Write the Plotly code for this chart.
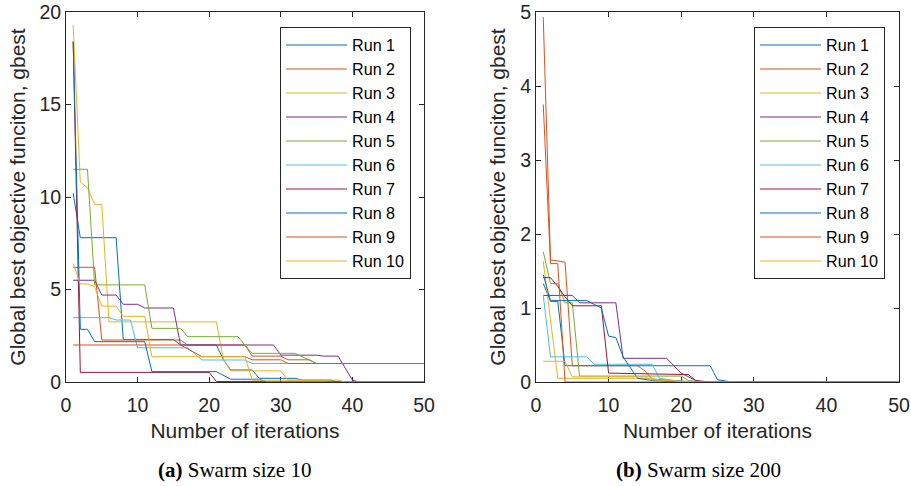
import plotly.graph_objects as go

# ---------------- data ----------------
RUN_NAMES = ["Run 1", "Run 2", "Run 3", "Run 4", "Run 5",
             "Run 6", "Run 7", "Run 8", "Run 9", "Run 10"]
COLORS = ["#0072BD", "#D95319", "#EDB120", "#7E2F8E", "#77AC30",
          "#4DBEEE", "#A2142F", "#0072BD", "#D95319", "#EDB120"]
X_TICKS = [0, 10, 20, 30, 40, 50]
Y_TICKS_A = [0, 5, 10, 15, 20]
Y_TICKS_B = [0, 1, 2, 3, 4, 5]
CAPTION_A = "<b>(a)</b> Swarm size 10"
CAPTION_B = "<b>(b)</b> Swarm size 200"
X_TITLE = "Number of iterations"
Y_TITLE = "Global best objective funciton, gbest"

# (a) swarm size 10 : iteration / gbest points where the curve changes
a1_it = [1, 2, 7, 8, 15, 16, 21, 22, 23, 26, 27, 32, 33, 37, 38, 50]
a1_val = [10.2, 7.8, 7.8, 2.3, 2.3, 2.0, 2.0, 1.2, 0.65, 0.65, 0.2, 0.2, 0.1, 0.1, 0.0, 0.0]
a2_it = [1, 4, 5, 16, 17, 25, 26, 30, 31, 34, 35, 50]
a2_val = [6.2, 6.2, 2.27, 2.27, 2.0, 2.0, 1.4, 1.4, 1.2, 1.2, 1.0, 1.0]
a3_it = [1, 2, 3, 4, 5, 6, 21, 22, 23, 30, 31, 36, 37, 50]
a3_val = [19.3, 10.8, 10.5, 9.6, 9.6, 3.25, 3.25, 1.2, 0.6, 0.6, 0.1, 0.1, 0.0, 0.0]
a4_it = [1, 4, 5, 7, 8, 10, 11, 15, 16, 29, 30, 35, 36, 38, 40, 41, 50]
a4_val = [5.5, 5.5, 4.7, 4.7, 4.2, 4.2, 4.0, 4.0, 2.0, 2.0, 1.45, 1.45, 1.4, 1.4, 0.1, 0.0, 0.0]
a5_it = [1, 3, 4, 11, 12, 16, 17, 24, 26, 32, 35, 50]
a5_val = [11.5, 11.5, 5.25, 5.25, 2.9, 2.9, 2.45, 2.45, 1.55, 1.55, 1.0, 1.0]
a6_it = [1, 6, 7, 9, 10, 17, 19, 25, 26, 50]
a6_val = [3.48, 3.48, 3.35, 3.35, 1.85, 1.85, 1.19, 1.19, 1.0, 1.0]
a7_it = [1, 2, 20, 21, 27, 28, 50]
a7_val = [18.4, 0.52, 0.52, 0.03, 0.03, 0.0, 0.0]
a8_it = [1, 2, 3, 4, 11, 12, 21, 23, 27, 28, 50]
a8_val = [18.4, 2.85, 2.85, 2.18, 2.18, 0.56, 0.56, 0.15, 0.15, 0.0, 0.0]
a9_it = [1, 16, 19, 25, 26, 30, 31, 50]
a9_val = [2.0, 2.0, 1.37, 1.37, 1.2, 1.2, 1.0, 1.0]
a10_it = [1, 2, 3, 4, 5, 7, 8, 11, 12, 25, 26, 38, 39, 50]
a10_val = [6.4, 5.3, 5.3, 5.15, 4.1, 4.1, 3.55, 3.55, 1.37, 1.37, 0.1, 0.1, 0.0, 0.0]

# (b) swarm size 200
b1_it = [1, 2, 3, 4, 24, 25, 27, 50]
b1_val = [1.33, 1.09, 1.09, 0.22, 0.22, 0.03, 0.0, 0.0]
b2_it = [1, 2, 4, 5, 14, 15, 16, 22, 50]
b2_val = [4.93, 1.65, 1.62, 0.22, 0.22, 0.15, 0.04, 0.0, 0.0]
b3_it = [1, 2, 3, 16, 18, 50]
b3_val = [1.63, 0.85, 0.05, 0.05, 0.0, 0.0]
b4_it = [1, 5, 6, 11, 12, 18, 19, 20, 22, 23, 50]
b4_val = [1.17, 1.17, 1.07, 1.07, 0.32, 0.32, 0.22, 0.12, 0.02, 0.0, 0.0]
b5_it = [1, 2, 3, 4, 5, 6, 20, 21, 23, 50]
b5_val = [1.76, 1.33, 1.33, 1.07, 1.07, 0.08, 0.08, 0.02, 0.0, 0.0]
b6_it = [1, 2, 7, 8, 16, 17, 19, 22, 50]
b6_val = [1.17, 0.34, 0.34, 0.24, 0.24, 0.05, 0.02, 0.0, 0.0]
b7_it = [1, 2, 3, 4, 5, 9, 10, 21, 22, 24, 50]
b7_val = [1.41, 1.41, 1.29, 1.15, 1.03, 1.03, 0.12, 0.1, 0.02, 0.0, 0.0]
b8_it = [1, 2, 7, 8, 9, 10, 11, 12, 13, 14, 16, 20, 50]
b8_val = [1.45, 1.1, 1.1, 1.05, 1.0, 0.62, 0.6, 0.34, 0.2, 0.05, 0.02, 0.0, 0.0]
b9_it = [1, 2, 3, 4, 50]
b9_val = [3.75, 1.6, 1.6, 0.0, 0.0]
b10_it = [1, 4, 5, 15, 16, 20, 22, 50]
b10_val = [0.28, 0.28, 0.07, 0.07, 0.03, 0.01, 0.0, 0.0]

A_SERIES = [(a1_it, a1_val), (a2_it, a2_val), (a3_it, a3_val), (a4_it, a4_val),
            (a5_it, a5_val), (a6_it, a6_val), (a7_it, a7_val), (a8_it, a8_val),
            (a9_it, a9_val), (a10_it, a10_val)]
B_SERIES = [(b1_it, b1_val), (b2_it, b2_val), (b3_it, b3_val), (b4_it, b4_val),
            (b5_it, b5_val), (b6_it, b6_val), (b7_it, b7_val), (b8_it, b8_val),
            (b9_it, b9_val), (b10_it, b10_val)]

# ---------------- figure ----------------
W, H = 911, 486
SANS = "Liberation Sans, Arial, Helvetica, sans-serif"
SERIF = "Liberation Serif, Times New Roman, serif"
INK = "#262626"

fig = go.Figure()
for i, (xs, ys) in enumerate(A_SERIES):
    fig.add_trace(go.Scatter(x=xs, y=ys, mode="lines", name=RUN_NAMES[i],
                             line=dict(color=COLORS[i], width=1),
                             xaxis="x", yaxis="y", legend="legend"))
for i, (xs, ys) in enumerate(B_SERIES):
    fig.add_trace(go.Scatter(x=xs, y=ys, mode="lines", name=RUN_NAMES[i],
                             line=dict(color=COLORS[i], width=1),
                             xaxis="x2", yaxis="y2", legend="legend2"))

top_px, bot_px = 12, 382
ydom = [1 - bot_px / H, 1 - top_px / H]


def xax(dom, anchor):
    return dict(domain=dom, range=[0, 50], tickvals=X_TICKS, ticks="inside",
                ticklen=5, tickwidth=1, tickcolor=INK, showline=True,
                linecolor=INK, linewidth=1, mirror="ticks", showgrid=False,
                zeroline=False, anchor=anchor, layer="below traces",
                automargin=False, ticklabelstandoff=6,
                tickfont=dict(family=SANS, size=19.5, color=INK),
                title=dict(text=X_TITLE, font=dict(family=SANS, size=21, color=INK),
                           standoff=7))


def yax(rng, ticks, anchor):
    return dict(domain=ydom, range=rng, tickvals=ticks, ticks="inside",
                ticklen=5, tickwidth=1, tickcolor=INK, showline=True,
                linecolor=INK, linewidth=1, mirror="ticks", showgrid=False,
                zeroline=False, anchor=anchor, layer="below traces",
                automargin=False,
                tickfont=dict(family=SANS, size=19.5, color=INK),
                title=dict(text=Y_TITLE, font=dict(family=SANS, size=21, color=INK),
                           standoff=8))


legend_common = dict(bgcolor="white", bordercolor=INK, borderwidth=1,
                     font=dict(family=SANS, size=21 / 1.3, color="#000000"),
                     xanchor="right", yanchor="top", tracegroupgap=0,
                     itemwidth=61,
                     itemclick=False, itemdoubleclick=False)

fig.update_layout(
    width=W, height=H,
    margin=dict(l=0, r=0, t=0, b=0, autoexpand=False),
    paper_bgcolor="white", plot_bgcolor="white",
    xaxis=xax([66 / W, 424 / W], "y"),
    yaxis=yax([0, 20], Y_TICKS_A, "x"),
    xaxis2=xax([536 / W, 899 / W], "y2"),
    yaxis2=yax([0, 5], Y_TICKS_B, "x2"),
    legend=dict(x=411 / W, y=1 - 27 / H, **legend_common),
    legend2=dict(x=885 / W, y=1 - 27 / H, **legend_common),
    annotations=[
        dict(text=CAPTION_A, x=235 / W, y=1 - 470 / H, xref="paper", yref="paper",
             showarrow=False, xanchor="center", yanchor="middle",
             font=dict(family=SERIF, size=21, color="#000000")),
        dict(text=CAPTION_B, x=698 / W, y=1 - 470 / H, xref="paper", yref="paper",
             showarrow=False, xanchor="center", yanchor="middle",
             font=dict(family=SERIF, size=21, color="#000000")),
    ],
)

fig.write_html("out.html")
